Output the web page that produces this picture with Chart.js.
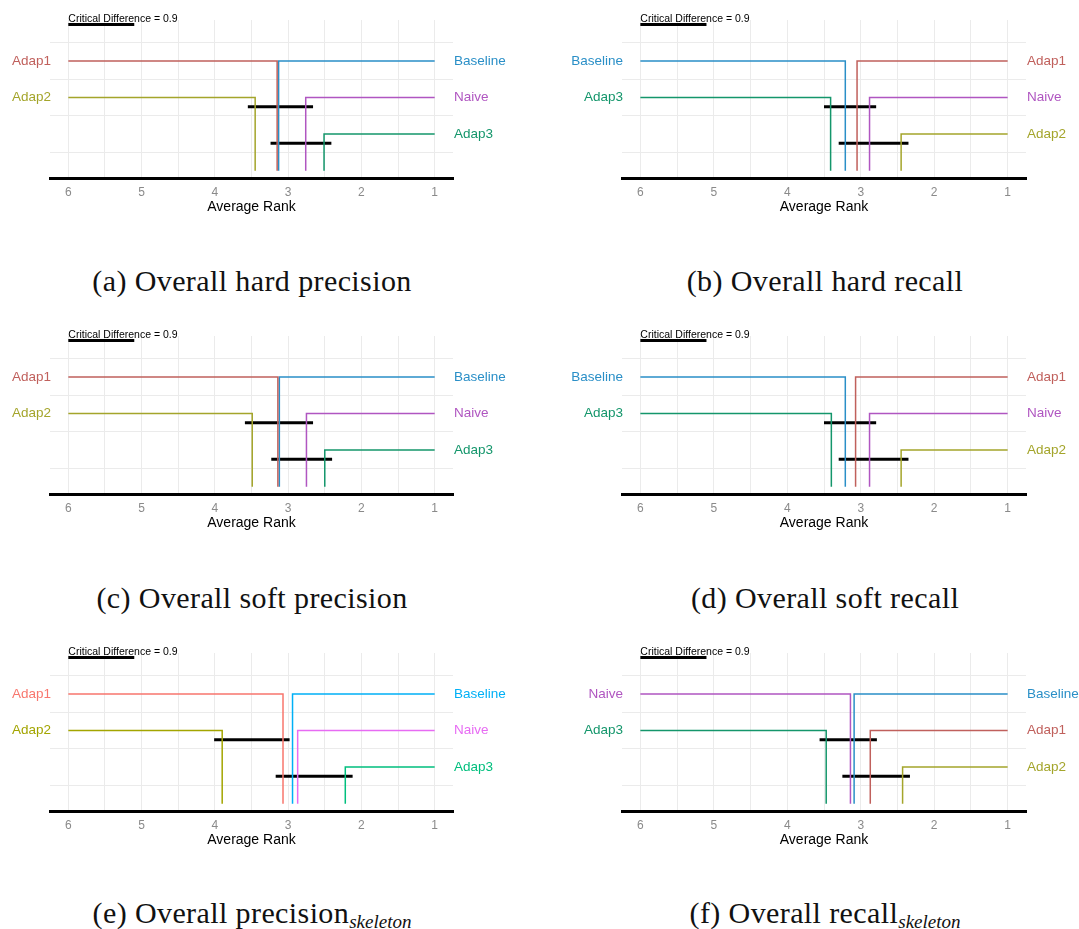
<!DOCTYPE html>
<html>
<head>
<meta charset="utf-8">
<script src="https://cdn.jsdelivr.net/npm/chart.js@4.4.0/dist/chart.umd.min.js"></script>
<style>
  html, body { margin: 0; padding: 0; background: #fff; }
  body { width: 1079px; height: 929px; position: relative; overflow: hidden; }
  .panel { position: absolute; width: 540px; height: 232px; }
  .caption {
    position: absolute; width: 540px; text-align: center;
    font-family: "Liberation Serif", "Times New Roman", serif;
    font-size: 30px; line-height: 30px; color: #111; letter-spacing: 0.4px;
  }
  .caption sub { font-size: 19px; font-style: italic; vertical-align: -5px; letter-spacing: 0; }
</style>
</head>
<body>
<div class="panel" style="left:0; top:0"><canvas id="cdA"></canvas></div>
<div class="panel" style="left:540px; top:0"><canvas id="cdB"></canvas></div>
<div class="panel" style="left:0; top:316px"><canvas id="cdC"></canvas></div>
<div class="panel" style="left:540px; top:316px"><canvas id="cdD"></canvas></div>
<div class="panel" style="left:0; top:633px"><canvas id="cdE"></canvas></div>
<div class="panel" style="left:540px; top:633px"><canvas id="cdF"></canvas></div>

<div class="caption" style="left:-18px; top:266px">(a) Overall hard precision</div>
<div class="caption" style="left:555px; top:266px">(b) Overall hard recall</div>
<div class="caption" style="left:-18px; top:583px">(c) Overall soft precision</div>
<div class="caption" style="left:555px; top:583px">(d) Overall soft recall</div>
<div class="caption" style="left:-18px; top:898px">(e) Overall precision<sub>skeleton</sub></div>
<div class="caption" style="left:555px; top:898px">(f) Overall recall<sub>skeleton</sub></div>

<script>
const methods = ['Adap1', 'Adap2', 'Adap3', 'Baseline', 'Naive'];
const xTickValues = [6, 5, 4, 3, 2, 1];
const xGridValues = [1, 1.5, 2, 2.5, 3, 3.5, 4, 4.5, 5, 5.5, 6];
const criticalDifference = 0.9;

// average rank of each method, same order as `methods`
const ranksHardPrecision = [3.15, 3.45, 2.51, 3.13, 2.76];
const ranksHardRecall = [3.05, 2.45, 3.41, 3.21, 2.88];
const ranksSoftPrecision = [3.14, 3.49, 2.50, 3.12, 2.75];
const ranksSoftRecall = [3.07, 2.45, 3.40, 3.21, 2.88];
const ranksPrecisionSkeleton = [3.07, 3.90, 2.22, 2.94, 2.87];
const ranksRecallSkeleton = [2.87, 2.43, 3.47, 3.09, 3.14];

// black bars joining groups that are not significantly different [from, to]
const cliquesHardPrecision = [[3.55, 2.66], [3.24, 2.41]];
const cliquesHardRecall = [[3.50, 2.79], [3.30, 2.35]];
const cliquesSoftPrecision = [[3.59, 2.66], [3.23, 2.40]];
const cliquesSoftRecall = [[3.50, 2.79], [3.30, 2.35]];
const cliquesPrecisionSkeleton = [[4.01, 2.98], [3.17, 2.12]];
const cliquesRecallSkeleton = [[3.56, 2.78], [3.25, 2.33]];

const mutedColors = {
    Adap1: '#c0605c', Adap2: '#a4a52b', Adap3: '#14966b', Baseline: '#2a8fc7', Naive: '#b056c1'
};
const brightColors = {
    Adap1: '#f8766d', Adap2: '#a3a500', Adap3: '#00bf7d', Baseline: '#00b0f6', Naive: '#e76bf3'
};

const sansFont = '"Liberation Sans", Arial, Helvetica, sans-serif';
const cdRow = 4;

// method names + "Critical Difference" text, placed through the scales
const cdLabels = {
    id: 'cdLabels',
    afterDatasetsDraw(chart) {
        const { ctx, chartArea, scales: { x, y } } = chart;
        ctx.save();
        ctx.font = '13.5px ' + sansFont;
        ctx.textBaseline = 'middle';
        chart.data.datasets.forEach(ds => {
            if (!ds.side) return;
            ctx.fillStyle = ds.borderColor;
            if (ds.side === 'left') {
                ctx.textAlign = 'right';
                ctx.fillText(ds.label, chartArea.left + 1, y.getPixelForValue(ds.row));
            } else {
                ctx.textAlign = 'left';
                ctx.fillText(ds.label, chartArea.right + 1, y.getPixelForValue(ds.row));
            }
        });
        ctx.font = '10.5px ' + sansFont;
        ctx.fillStyle = '#000';
        ctx.textAlign = 'left';
        ctx.textBaseline = 'alphabetic';
        ctx.fillText('Critical Difference = ' + criticalDifference,
            x.getPixelForValue(xTickValues[0]), y.getPixelForValue(cdRow) - 2.5);
        ctx.restore();
    }
};

function buildDatasets(ranks, cliques, colors) {
    const order = methods.map((m, i) => ({ name: m, rank: ranks[i] }))
        .sort((a, b) => b.rank - a.rank);
    const nLeft = Math.floor(order.length / 2);
    const datasets = [];
    order.forEach((m, i) => {
        const left = i < nLeft;
        const row = left ? 3 - (nLeft - 1 - i) : 3 - (i - nLeft);
        const start = left ? xTickValues[0] : xTickValues[xTickValues.length - 1];
        datasets.push({
            label: m.name,
            side: left ? 'left' : 'right',
            row: row,
            data: [{ x: start, y: row }, { x: m.rank, y: row }, { x: m.rank, y: 0 }],
            borderColor: colors[m.name],
            borderWidth: 1.5
        });
    });
    cliques.forEach((c, i) => {
        const by = 1.75 - i;
        datasets.push({
            label: 'clique' + i,
            data: [{ x: c[0], y: by }, { x: c[1], y: by }],
            borderColor: '#000',
            borderWidth: 3
        });
    });
    datasets.push({
        label: 'cd',
        data: [{ x: xTickValues[0], y: cdRow }, { x: xTickValues[0] - criticalDifference, y: cdRow }],
        borderColor: '#000',
        borderWidth: 3
    });
    datasets.forEach(ds => {
        ds.showLine = true;
        ds.pointRadius = 0;
        ds.fill = false;
        ds.borderCapStyle = 'butt';
        ds.borderJoinStyle = 'miter';
        ds.clip = false;
    });
    return datasets;
}

function drawCD(canvasId, ranks, cliques, colors, padLeft, padRight) {
    const ctx = document.getElementById(canvasId).getContext('2d');
    return new Chart(ctx, {
        type: 'scatter',
        data: { datasets: buildDatasets(ranks, cliques, colors) },
        options: {
            responsive: true,
            maintainAspectRatio: false,
            animation: false,
            layout: { padding: { left: padLeft, right: padRight, top: 20, bottom: 20 } },
            plugins: { legend: { display: false }, tooltip: { enabled: false } },
            scales: {
                x: {
                    type: 'linear',
                    reverse: true,
                    min: 0.75,
                    max: 6.25,
                    afterBuildTicks: ax => { ax.ticks = xGridValues.map(v => ({ value: v })); },
                    ticks: {
                        autoSkip: false,
                        maxRotation: 0,
                        padding: 9,
                        color: '#8a8a8a',
                        font: { family: sansFont, size: 12, lineHeight: 1 },
                        callback: v => (xTickValues.includes(v) ? String(v) : '')
                    },
                    grid: { color: '#ebebeb', lineWidth: 1, drawTicks: false },
                    border: { display: true, color: '#000', width: 3 },
                    title: {
                        display: true,
                        text: 'Average Rank',
                        color: '#000',
                        padding: { top: -8, bottom: -2 },
                        font: { family: sansFont, size: 14, lineHeight: 1 }
                    }
                },
                y: {
                    type: 'linear',
                    min: -0.2,
                    max: 4.12,
                    afterBuildTicks: ax => { ax.ticks = [0.5, 1.5, 2.5, 3.5].map(v => ({ value: v })); },
                    afterFit: ax => { ax.width = 0; },
                    ticks: { display: false },
                    grid: { color: '#ebebeb', lineWidth: 1, drawTicks: false },
                    border: { display: false }
                }
            }
        },
        plugins: [cdLabels]
    });
}

document.addEventListener('DOMContentLoaded', () => {
    drawCD('cdA', ranksHardPrecision, cliquesHardPrecision, mutedColors, 50, 87);
    drawCD('cdB', ranksHardRecall, cliquesHardRecall, mutedColors, 82, 54);
    drawCD('cdC', ranksSoftPrecision, cliquesSoftPrecision, mutedColors, 50, 87);
    drawCD('cdD', ranksSoftRecall, cliquesSoftRecall, mutedColors, 82, 54);
    drawCD('cdE', ranksPrecisionSkeleton, cliquesPrecisionSkeleton, brightColors, 50, 87);
    drawCD('cdF', ranksRecallSkeleton, cliquesRecallSkeleton, mutedColors, 82, 54);
});
</script>
</body>
</html>
